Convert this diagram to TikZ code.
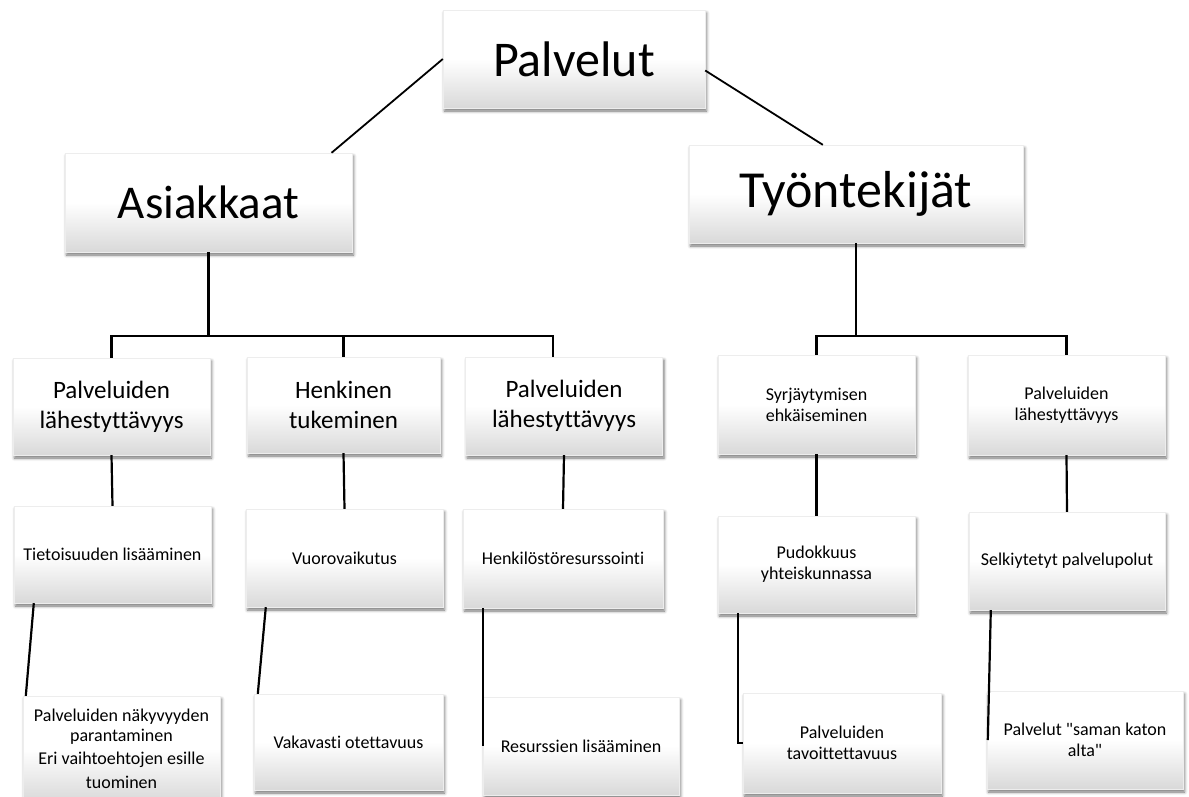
\documentclass[tikz,border=0pt]{standalone}
\usepackage{fontspec}
\setmainfont{Carlito}[Ligatures={TeXOff,CommonOff}]
\usetikzlibrary{shadows,shadows.blur}
\begin{document}
\begin{tikzpicture}[x=1pt,y=-1pt,
  box/.style={shading=axis,top color=white,bottom color=black!15,middle color=white,
    draw=black!7,line width=.4pt,align=center,inner sep=2pt,
    minimum width=197pt,minimum height=98pt,
    blur shadow={shadow xshift=1.5pt,shadow yshift=-3pt,shadow blur radius=3pt,shadow opacity=55}},
  big/.style={box,font=\fontsize{50}{60}\selectfont},
  mid/.style={box,font=\fontsize{25}{30}\selectfont},
  small/.style={box,font=\fontsize{18}{21}\selectfont},
  link/.style={line width=2.2pt}]
\useasboundingbox (0,0) rectangle (1189,796);
\node[big,minimum width=262pt] (pal) at (574,59) {Palvelut};
\node[big,font=\fontsize{47}{56}\selectfont,minimum width=287pt,minimum height=99pt] (asi) at (208.5,202.5) {Asiakkaat};
\node[big,font=\fontsize{52}{62}\selectfont,minimum width=334pt] (tyo) at (856,194) {Työntekijät};
\node[mid,minimum height=97pt] (a1) at (111.5,406.5) {Palveluiden\\lähestyttävyys};
\node[mid,minimum width=193pt,minimum height=96pt] (a2) at (343.5,405) {Henkinen\\tukeminen};
\node[mid] (a3) at (564,406) {Palveluiden\\lähestyttävyys};
\node[small,minimum height=99pt] (b1) at (816.5,404.5) {Syrjäytymisen\\ehkäiseminen};
\node[small,minimum height=100pt] (b2) at (1066.5,405) {Palveluiden\\lähestyttävyys};
\node[small,minimum height=97pt] (c1) at (112.5,554.5) {Tietoisuuden lisääminen};
\node[small] (c2) at (344.5,558) {Vuorovaikutus};
\node[small,minimum width=200pt,minimum height=99pt] (c3) at (563,558.5) {Henkilöstöresurssointi};
\node[small,minimum height=97pt] (c4) at (816.5,564.5) {Pudokkuus\\yhteiskunnassa};
\node[small,minimum width=196pt] (c5) at (1067,561) {Selkiytetyt palvelupolut};
\node[small,minimum height=106pt,font=\fontsize{18}{20}\selectfont] (d1) at (121.5,749)
  {Palveluiden näkyvyyden\\parantaminen\\[3pt]Eri vaihtoehtojen esille\\[4pt]tuominen};
\node[small,minimum width=189pt,minimum height=96pt] (d2) at (348.5,742) {Vakavasti otettavuus};
\node[small,minimum width=196pt] (d3) at (581,746) {Resurssien lisääminen};
\node[small,minimum width=198pt,minimum height=100pt] (d4) at (842,743) {Palveluiden\\tavoittettavuus};
\node[small,minimum width=196pt] (d5) at (1085,740) {Palvelut "saman katon\\alta"};
\coordinate (asiJ) at (208.5,336);
\coordinate (tyoJ) at (856,336);
\draw[link,line width=1.8pt] (pal.west) -- (asi.22.5);
\draw[link,line width=1.8pt] (pal.-5) -- (tyo.124);
\draw[link] (asi.south) -- (asiJ);
\draw[link] (a1.north) |- (asiJ) -| (a3.103);
\draw[link] (a2.north) -- (a2.north |- asiJ);
\draw[link] (tyo.south) -- (tyoJ);
\draw[link] (b1.north) |- (tyoJ) -| (b2.north);
\draw[link] (a1.south) -- (c1.north);
\draw[link] (a2.south) -- (c2.north);
\draw[link] (a3.south) -- (c3.north);
\draw[link] (b1.south) -- (c4.north);
\draw[link] (b2.south) -- (c5.north);
\draw[link] ([xshift=20pt]c1.south west) -- ([xshift=3pt]d1.north west);
\draw[link] ([xshift=20pt]c2.south west) -- ([xshift=4pt]d2.north west);
\draw[link] ([xshift=20pt]c3.south west) -- (d3.west);
\draw[link] ([xshift=20pt]c4.south west) |- (d4.west);
\draw[link] ([xshift=22pt]c5.south west) -- ([xshift=1pt]d5.west);
\end{tikzpicture}
\end{document}
